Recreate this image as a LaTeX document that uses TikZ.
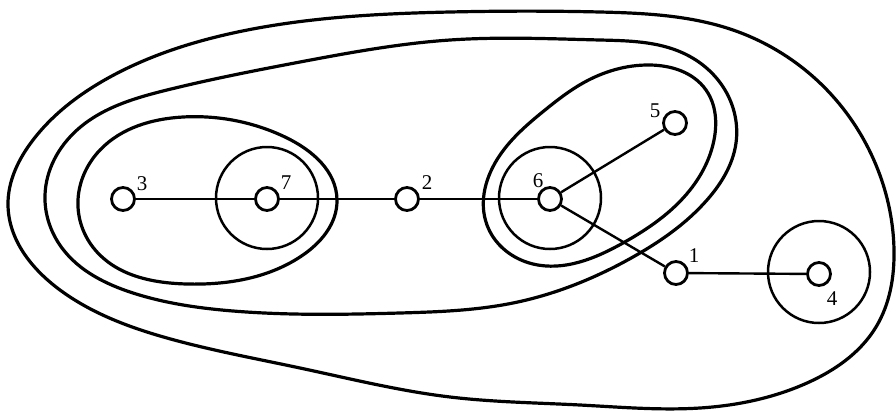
\documentclass[tikz,border=0pt]{standalone}
\usepackage{fontspec}
\setmainfont{Liberation Serif}
\usetikzlibrary{hobby}
\begin{document}
\begin{tikzpicture}[x=1pt,y=-1pt,
  region/.style={line width=3.2pt, line join=round},
  ring/.style={line width=2.5pt},
  vert/.style={circle, draw, line width=2.8pt, fill=white, minimum size=23pt, inner sep=0pt},
  edge/.style={line width=2.4pt},
  num/.style={inner sep=0pt, font=\fontsize{21}{22}\selectfont}]
\useasboundingbox (0,0) rectangle (896,410);
% outer region
\draw[region] plot[closed hobby] coordinates {
  (450,12) (600,12) (733,30) (827,90) (878,170) (894,250) (876,327) (807,383)
  (700,408) (580,405) (450,397) (300,368) (167,338) (60,290) (8,205) (33,140)
  (110,77) (233,33)};
% middle region
\draw[region] plot[closed hobby] coordinates {
  (450,40) (600,40) (683,53) (725,90) (736,143) (707,200) (633,257) (513,303)
  (400,313) (233,311) (133,293) (62,248) (45,195) (77,130) (167,90) (300,62)};
% egg around 3,7
\draw[region] plot[closed hobby] coordinates {
  (78,207) (100,150) (183,117) (285,137) (337,200) (300,257) (187,284) (97,252)};
% tilted region around 6,5
\draw[region] plot[closed hobby] coordinates {
  (583,83) (650,65) (706,90) (714,140) (690,190) (623,243) (533,264) (487,225)
  (500,155) (545,110)};
% circles
\draw[ring] (267,198) circle (51);
\draw[ring] (550,198) circle (51);
\draw[ring] (819,272) circle (51);
% vertices
\node[vert] (n3) at (123,199) {};
\node[vert] (n7) at (267,199) {};
\node[vert] (n2) at (407,199) {};
\node[vert] (n6) at (550,199) {};
\node[vert] (n5) at (675,123) {};
\node[vert] (n1) at (676,273) {};
\node[vert] (n4) at (819,274) {};
% edges
\draw[edge] (n3) -- (n7);
\draw[edge] (n7) -- (n2);
\draw[edge] (n2) -- (n6);
\draw[edge] (n6) -- (n5);
\draw[edge] (n6) -- (n1);
\draw[edge] (n1) -- (n4);
% labels
\node[num] (l3) at (142,184) {3};
\node[num] (l7) at (286,183) {7};
\node[num] (l2) at (427,183) {2};
\node[num] (l6) at (538,181) {6};
\node[num] (l5) at (655,111) {5};
\node[num] (l1) at (694,256) {1};
\node[num] (l4) at (832,299) {4};
\end{tikzpicture}
\end{document}
